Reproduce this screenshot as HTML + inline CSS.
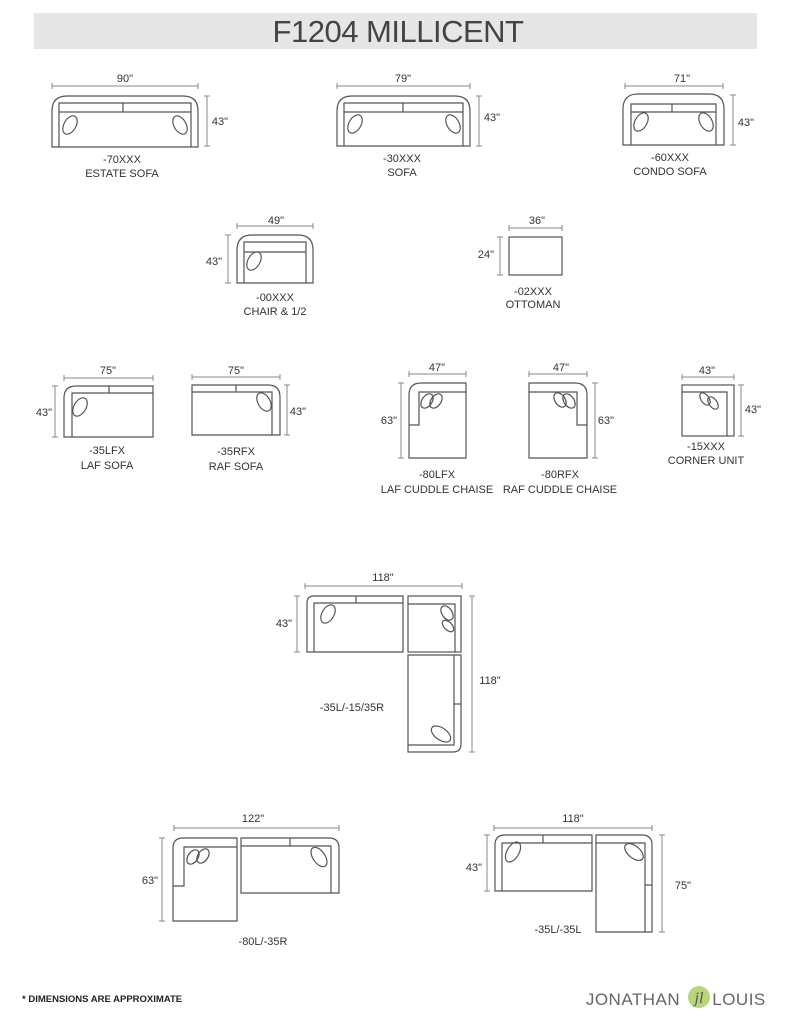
<!DOCTYPE html>
<html><head><meta charset="utf-8"><style>
body{margin:0;background:#fff;width:791px;height:1024px;overflow:hidden;font-family:"Liberation Sans",sans-serif}
svg{position:absolute;left:0;top:0}
text{font-family:"Liberation Sans",sans-serif;fill:#333;font-size:11px;text-anchor:middle}
.s{fill:none;stroke:#555;stroke-width:1.2}
.d{fill:none;stroke:#888;stroke-width:1}
</style></head><body>
<svg width="791" height="1024" viewBox="0 0 791 1024">
<rect x="34" y="13" width="723" height="36" fill="#e6e6e6"/>
<text x="398" y="42" style="font-size:31px;fill:#444;letter-spacing:-0.5px">F1204 MILLICENT</text>

<!-- Estate sofa -->
<g class="s">
<path d="M52 147V111Q52 96 67 96H183Q198 96 198 111V147Z"/>
<path d="M59 147V103H191V147M59 112H191M123 103V112"/>
<ellipse cx="70" cy="125" rx="6" ry="10" transform="rotate(30 70 125)"/>
<ellipse cx="180" cy="125" rx="6" ry="10" transform="rotate(-30 180 125)"/>
</g>
<path class="d" d="M52 86H198M52 83V89M198 83V89M207 96V146M204 96H210M204 146H210"/>
<text x="125" y="82">90"</text><text x="220" y="125">43"</text>
<text x="122" y="163">-70XXX</text><text x="122" y="177">ESTATE SOFA</text>

<!-- Sofa -->
<g class="s">
<path d="M337 146V111Q337 96 352 96H455Q470 96 470 111V146Z"/>
<path d="M344 146V103H463V146M344 112H463M403 103V112"/>
<ellipse cx="355" cy="124" rx="6" ry="10" transform="rotate(30 355 124)"/>
<ellipse cx="453" cy="124" rx="6" ry="10" transform="rotate(-30 453 124)"/>
</g>
<path class="d" d="M337 86H470M337 83V89M470 83V89M479 96V146M476 96H482M476 146H482"/>
<text x="403" y="82">79"</text><text x="492" y="121">43"</text>
<text x="402" y="162">-30XXX</text><text x="402" y="176">SOFA</text>

<!-- Condo -->
<g class="s">
<path d="M623 145V109Q623 94 638 94H709Q724 94 724 109V145Z"/>
<path d="M631 145V104H716V145M631 112H716M672 104V112"/>
<ellipse cx="641" cy="122" rx="6" ry="10" transform="rotate(30 641 122)"/>
<ellipse cx="706" cy="122" rx="6" ry="10" transform="rotate(-30 706 122)"/>
</g>
<path class="d" d="M625 86H723M625 83V89M723 83V89M733 95V145M730 95H736M730 145H736"/>
<text x="682" y="82">71"</text><text x="746" y="126">43"</text>
<text x="670" y="161">-60XXX</text><text x="670" y="175">CONDO SOFA</text>

<!-- Chair -->
<g class="s">
<path d="M237 283V250Q237 235 252 235H298Q313 235 313 250V283Z"/>
<path d="M244 283V242H306V283M244 252H306"/>
<ellipse cx="254" cy="261" rx="6" ry="10" transform="rotate(30 254 261)"/>
</g>
<path class="d" d="M237 226H313M237 223V229M313 223V229M228 235V283M225 235H231M225 283H231"/>
<text x="276" y="224">49"</text><text x="214" y="265">43"</text>
<text x="275" y="301">-00XXX</text><text x="275" y="315">CHAIR &amp; 1/2</text>

<!-- Ottoman -->
<rect class="s" x="509" y="237" width="53" height="38"/>
<path class="d" d="M509 228H562M509 225V231M562 225V231M500 237V275M497 237H503M497 275H503"/>
<text x="537" y="224">36"</text><text x="486" y="258">24"</text>
<text x="533" y="295">-02XXX</text><text x="533" y="308">OTTOMAN</text>

<!-- LAF sofa -->
<g class="s">
<path d="M64 437V398Q64 386 76 386H153V437Z"/>
<path d="M72 437V393H153M109 386V393"/>
<ellipse cx="80" cy="407" rx="6" ry="10" transform="rotate(30 80 407)"/>
</g>
<path class="d" d="M64 378H153M64 375V381M153 375V381M55 386V437M52 386H58M52 437H58"/>
<text x="108" y="374">75"</text><text x="44" y="416">43"</text>
<text x="107" y="454">-35LFX</text><text x="107" y="469">LAF SOFA</text>

<!-- RAF sofa -->
<g class="s">
<path d="M192 435V385H268Q280 385 280 397V435Z"/>
<path d="M192 392H272V435M236 385V392"/>
<ellipse cx="264" cy="402" rx="6" ry="10" transform="rotate(-30 264 402)"/>
</g>
<path class="d" d="M192 377H280M192 374V380M280 374V380M287 385V435M284 385H290M284 435H290"/>
<text x="236" y="374">75"</text><text x="298" y="415">43"</text>
<text x="236" y="455">-35RFX</text><text x="236" y="470">RAF SOFA</text>

<!-- LAF chaise -->
<g class="s">
<path d="M409 458V395Q409 383 421 383H466V458Z"/>
<path d="M409 425H419V392H466"/>
<ellipse cx="427" cy="401" rx="5" ry="8" transform="rotate(35 427 401)"/>
<ellipse cx="436" cy="401" rx="5" ry="8" transform="rotate(35 436 401)"/>
</g>
<path class="d" d="M409 374H466M409 371V377M466 371V377M401 383V458M398 383H404M398 458H404"/>
<text x="437" y="371">47"</text><text x="389" y="424">63"</text>
<text x="437" y="478">-80LFX</text><text x="437" y="493">LAF CUDDLE CHAISE</text>

<!-- RAF chaise -->
<g class="s">
<path d="M529 458V383H575Q587 383 587 395V458Z"/>
<path d="M529 392H577V425H587"/>
<ellipse cx="560" cy="400" rx="5" ry="8" transform="rotate(-35 560 400)"/>
<ellipse cx="569" cy="401" rx="5" ry="8" transform="rotate(-35 569 401)"/>
</g>
<path class="d" d="M529 374H587M529 371V377M587 371V377M595 383V458M592 383H598M592 458H598"/>
<text x="561" y="371">47"</text><text x="606" y="424">63"</text>
<text x="560" y="478">-80RFX</text><text x="560" y="493">RAF CUDDLE CHAISE</text>

<!-- Corner -->
<g class="s">
<rect x="682" y="385" width="52" height="51"/>
<path d="M682 392H727V436"/>
<ellipse cx="705" cy="399" rx="4" ry="7" transform="rotate(-35 705 399)"/>
<ellipse cx="713" cy="403" rx="4" ry="7" transform="rotate(-35 713 403)"/>
</g>
<path class="d" d="M682 377H734M682 374V380M734 374V380M741 385V436M738 385H744M738 436H744"/>
<text x="707" y="374">43"</text><text x="753" y="413">43"</text>
<text x="706" y="450">-15XXX</text><text x="706" y="464">CORNER UNIT</text>

<!-- Sectional 1 -->
<g class="s">
<path d="M307 652V603Q307 596 314 596H403V652Z"/>
<path d="M314 652V603H403M356 596V603"/>
<ellipse cx="328" cy="614" rx="6" ry="10" transform="rotate(30 328 614)"/>
<rect x="408" y="596" width="53" height="56"/>
<path d="M408 604H455V652"/>
<ellipse cx="447" cy="613" rx="5" ry="8" transform="rotate(-35 447 613)"/>
<ellipse cx="448" cy="626" rx="4" ry="7" transform="rotate(-45 448 626)"/>
<path d="M408 655H461V744Q461 752 453 752H408Z"/>
<path d="M408 745H454V655M454 704H461"/>
<ellipse cx="441" cy="734" rx="6" ry="11" transform="rotate(-55 441 734)"/>
</g>
<path class="d" d="M305 586H462M305 583V589M462 583V589M297 596V652M294 596H300M294 652H300M472 596V752M469 596H475M469 752H475"/>
<text x="383" y="581">118"</text><text x="284" y="627">43"</text><text x="490" y="684">118"</text>
<text x="352" y="711">-35L/-15/35R</text>

<!-- Sectional 2 -->
<g class="s">
<path d="M173 921V848Q173 838 183 838H237V921Z"/>
<path d="M173 886H184V847H237"/>
<ellipse cx="193" cy="857" rx="5" ry="8" transform="rotate(35 193 857)"/>
<ellipse cx="203" cy="856" rx="5" ry="8" transform="rotate(35 203 856)"/>
<path d="M241 893V838H329Q339 838 339 848V893Z"/>
<path d="M241 846H331V893M290 838V846"/>
<ellipse cx="319" cy="857" rx="6" ry="11" transform="rotate(-35 319 857)"/>
</g>
<path class="d" d="M174 828H339M174 825V831M339 825V831M162 838V921M159 838H165M159 921H165"/>
<text x="253" y="822">122"</text><text x="150" y="884">63"</text>
<text x="263" y="945">-80L/-35R</text>

<!-- Sectional 3 -->
<g class="s">
<path d="M495 891V845Q495 835 505 835H592V891Z"/>
<path d="M502 891V843H592M543 835V843"/>
<ellipse cx="513" cy="852" rx="6" ry="11" transform="rotate(30 513 852)"/>
<path d="M596 932V835H642Q652 835 652 845V932Z"/>
<path d="M596 843H645V932M645 885H652"/>
<ellipse cx="634" cy="852" rx="6" ry="11" transform="rotate(-50 634 852)"/>
</g>
<path class="d" d="M494 828H652M494 825V831M652 825V831M487 835V891M484 835H490M484 891H490M662 835V932M659 835H665M659 932H665"/>
<text x="573" y="822">118"</text><text x="474" y="871">43"</text><text x="683" y="889">75"</text>
<text x="558" y="933">-35L/-35L</text>

<text x="22" y="1002" style="text-anchor:start;font-size:9.5px;font-weight:bold;fill:#222">* DIMENSIONS ARE APPROXIMATE</text>
<text x="633" y="1005" style="font-size:17px;fill:#666;letter-spacing:0.5px">JONATHAN</text>
<circle cx="699" cy="997" r="11" fill="#a9cf62" opacity="0.85"/>
<text x="699" y="1003" style="font-size:16px;font-style:italic;fill:#555;font-family:'Liberation Serif',serif">jl</text>
<text x="739" y="1005" style="font-size:17px;fill:#666;letter-spacing:0.5px">LOUIS</text>
</svg>
</body></html>
